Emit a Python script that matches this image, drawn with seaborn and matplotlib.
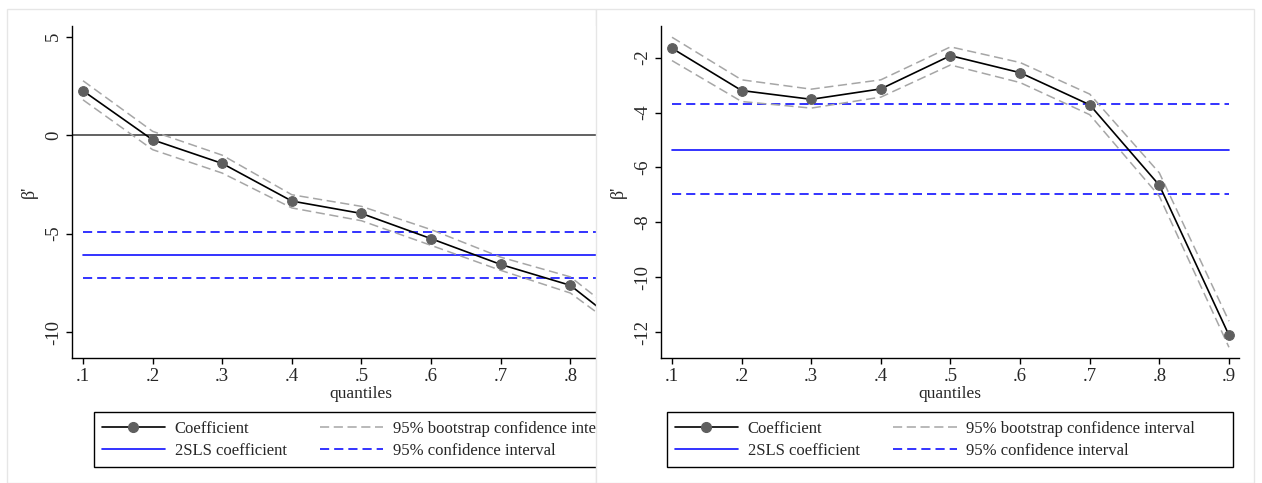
import numpy as np
import pandas as pd
import matplotlib
matplotlib.use("Agg")
import matplotlib.pyplot as plt
from matplotlib.patches import Rectangle
from matplotlib.lines import Line2D
import seaborn as sns

# --- data ---
quantiles = [0.1, 0.2, 0.3, 0.4, 0.5, 0.6, 0.7, 0.8, 0.9]

left_coef = [2.25, -0.24, -1.44, -3.35, -3.98, -5.26, -6.57, -7.63, -10.41]
left_upper = [2.76, 0.19, -1.02, -3.03, -3.62, -4.80, -6.20, -7.20, -9.98]
left_lower = [1.79, -0.74, -1.93, -3.70, -4.35, -5.60, -6.87, -8.02, -10.62]
left_2sls = -6.11
left_2sls_ci = [-4.92, -7.26]

right_coef = [-1.66, -3.20, -3.52, -3.14, -1.93, -2.55, -3.72, -6.65, -12.11]
right_upper = [-1.26, -2.81, -3.15, -2.81, -1.61, -2.18, -3.33, -6.20, -11.60]
right_lower = [-2.11, -3.60, -3.84, -3.44, -2.27, -2.91, -4.08, -7.05, -12.55]
right_2sls = -5.35
right_2sls_ci = [-3.68, -6.97]

left_yticks = [5, 0, -5, -10]
right_yticks = [-2, -4, -6, -8, -10, -12]
xtick_labels = [".1", ".2", ".3", ".4", ".5", ".6", ".7", ".8", ".9"]

legend_labels = ["Coefficient", "2SLS coefficient",
                 "95% bootstrap confidence interval", "95% confidence interval"]

sns.set_style("white")
plt.rcParams["font.family"] = ["Liberation Serif", "DejaVu Serif"]
plt.rcParams["font.size"] = 12

W, H = 1262, 483
fig = plt.figure(figsize=(W / 100, H / 100), dpi=100)


def px_rect(x0, y0, x1, y1):
    return [x0 / W, 1 - y1 / H, (x1 - x0) / W, (y1 - y0) / H]


GREY_CI = "#a6a6a6"
MARK = "#5f5f5f"
BLUE = "#1010ff"


def draw_panel(ax, coef, upper, lower, b2sls, ci, yticks, ylim, zero_line):
    df = pd.DataFrame({"q": quantiles, "coef": coef, "upper": upper, "lower": lower})
    if zero_line:
        ax.axhline(0, color="#555555", lw=1.3, zorder=1)
    span = pd.DataFrame({"q": [quantiles[0], quantiles[-1]]})
    for val, ls in [(b2sls, "-"), (ci[0], (0, (5.5, 3))), (ci[1], (0, (5.5, 3)))]:
        sns.lineplot(data=span.assign(v=val), x="q", y="v", ax=ax, color=BLUE,
                     lw=1.2, linestyle=ls, zorder=2)
    for col in ["upper", "lower"]:
        sns.lineplot(data=df, x="q", y=col, ax=ax, color=GREY_CI, lw=1.1,
                     linestyle=(0, (6, 3)), zorder=3)
    sns.lineplot(data=df, x="q", y="coef", ax=ax, color="black", lw=1.2,
                 marker="o", markersize=7, markerfacecolor=MARK,
                 markeredgecolor=MARK, zorder=4)
    ax.set_xlim(0.0842, 0.9144)
    ax.set_ylim(*ylim)
    ax.set_xticks(quantiles)
    ax.set_xticklabels(xtick_labels)
    ax.set_yticks(yticks)
    ax.set_yticklabels([str(t) for t in yticks], rotation=90, va="center")
    ax.set_xlabel("quantiles", labelpad=1, fontsize=12.5)
    ax.set_ylabel("β'", labelpad=5, fontsize=13)
    for s in ["top", "right"]:
        ax.spines[s].set_visible(False)
    for s in ["left", "bottom"]:
        ax.spines[s].set_color("black")
        ax.spines[s].set_linewidth(1.0)
    ax.tick_params(direction="out", length=4, width=1, color="black",
                   left=True, bottom=True, pad=3, labelsize=13.5)
    ax.set_facecolor("white")


handles = [
    Line2D([], [], color="black", lw=1.2, marker="o", markersize=7,
           markerfacecolor=MARK, markeredgecolor=MARK),
    Line2D([], [], color=BLUE, lw=1.2),
    Line2D([], [], color=GREY_CI, lw=1.1, linestyle=(0, (6, 3))),
    Line2D([], [], color=BLUE, lw=1.2, linestyle=(0, (5.5, 3))),
]


def add_legend(x0, z):
    # frame drawn by hand at the reference's box size
    fig.patches.append(Rectangle((x0 / W, 1 - 467 / H), 566 / W, 55 / H,
                                 transform=fig.transFigure, facecolor="white",
                                 edgecolor="black", lw=1.0, zorder=z - 0.1))
    leg = fig.legend(handles, legend_labels, ncol=2, loc="center left",
                     bbox_to_anchor=((x0 + 7.5) / W, 1 - 440 / H),
                     bbox_transform=fig.transFigure,
                     borderaxespad=0, frameon=False, borderpad=0,
                     handlelength=3.8, handletextpad=0.6, columnspacing=2.0,
                     labelspacing=0.35, fontsize=12.0)
    leg.set_zorder(z)
    return leg


# left panel (cropped on its right side in the original)
fig.patches.append(Rectangle((7 / W, 0), (596 - 7) / W, 1 - 9 / H, transform=fig.transFigure,
                             facecolor="white", edgecolor="#e6e6e6", lw=1, zorder=-1))
ax1 = fig.add_axes(px_rect(72, 26, 650, 358))
ax1.set_zorder(0)
draw_panel(ax1, left_coef, left_upper, left_lower, left_2sls, left_2sls_ci,
           left_yticks, (-11.32, 5.54), True)
add_legend(94, 0.5)

# cover for the crop, then the right panel on top
fig.patches.append(Rectangle((596 / W, 0), (1254 - 596) / W, 1 - 9 / H, transform=fig.transFigure,
                             facecolor="white", edgecolor="#e6e6e6", lw=1, zorder=1))
ax2 = fig.add_axes(px_rect(661, 26, 1239, 358))
ax2.set_zorder(2)
draw_panel(ax2, right_coef, right_upper, right_lower, right_2sls, right_2sls_ci,
           right_yticks, (-12.94, -0.85), False)
add_legend(667, 3)

for ax in (ax1, ax2):
    if ax.get_legend() is not None:
        ax.get_legend().remove()

fig.savefig("out.png", dpi=100, facecolor="white")
